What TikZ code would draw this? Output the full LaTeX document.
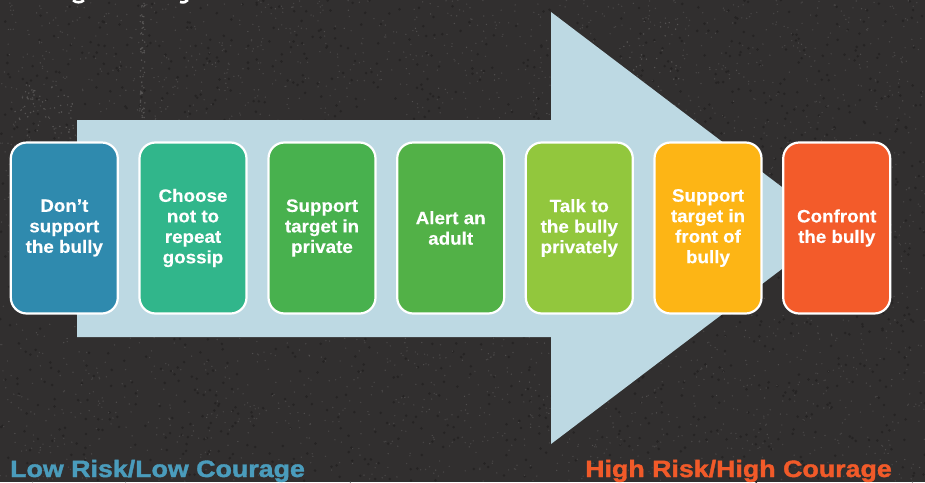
\documentclass[tikz,border=0pt]{standalone}
\usepackage{fontspec}
\setmainfont{Liberation Sans}
\newfontfamily\cardfont[FakeStretch=1.05,FakeBold=0.3]{Liberation Sans Bold}
\newfontfamily\heavyfont[FakeStretch=1.135,FakeBold=1.6]{Liberation Sans Bold}
\definecolor{board}{HTML}{312F2F}
\definecolor{speckA}{HTML}{464444}
\definecolor{speckB}{HTML}{262424}
\definecolor{speckC}{HTML}{777574}
\definecolor{arrowblue}{HTML}{BDD9E3}
\definecolor{cA}{HTML}{2F8AAE}
\definecolor{cB}{HTML}{31B68B}
\definecolor{cC}{HTML}{48B14E}
\definecolor{cD}{HTML}{52B147}
\definecolor{cE}{HTML}{92C73D}
\definecolor{cF}{HTML}{FDB515}
\definecolor{cG}{HTML}{F35B2A}
\definecolor{lowtext}{HTML}{4A9CBC}
\definecolor{hightext}{HTML}{F15A29}
\tikzset{
  card/.style={draw=white,line width=2.2pt,rounded corners=16pt,minimum width=107pt,minimum height=171pt,
    inner sep=0pt,text=white,align=center,font=\fontsize{17.9}{20.5}\selectfont\cardfont,
    execute at begin node=\vspace*{2pt}},
  endlabel/.style={anchor=base west,inner sep=0pt,font=\fontsize{23.6}{24}\selectfont\heavyfont}
}
\begin{document}
\begin{tikzpicture}[x=1pt,y=-1pt]
\useasboundingbox (0,0) rectangle (925,482);
\begin{scope}
\clip (0,0) rectangle (925,482);
\fill[board] (0,0) rectangle (925,482);
\pgfmathsetseed{4217}
\foreach \j in {1,...,8}{
  \fill[speckB] \foreach \i in {1,...,200}{ ({925*rnd},{482*rnd}) circle[radius=1.4] };
}
\foreach \j in {1,...,15}{
  \fill[speckA] \foreach \i in {1,...,200}{ ({925*rnd},{482*rnd}) circle[radius=0.8] };
}
\foreach \j in {1,...,3}{
  \fill[speckC,opacity=.45] \foreach \i in {1,...,170}{ ({925*rnd},{482*rnd}) circle[radius=0.7] };
}
% lighter chalk smudges
\fill[speckC,opacity=.55] \foreach \i in {1,...,60}{ ({140+5*rnd},{120*rnd}) circle[radius=0.8] };
\fill[speckC,opacity=.55] \foreach \i in {1,...,60}{ ({15+60*rnd},{85+50*rnd}) circle[radius=0.8] };
\fill[speckC,opacity=.55] \foreach \i in {1,...,50}{ ({620+60*rnd},{20+100*rnd}) circle[radius=0.8] };
% clipped remains of the title's descenders
\draw[white,line width=2.6pt] (73,0.2) .. controls (76,3) and (81,3) .. (84,0.2);
\draw[white,line width=2.6pt] (180,2) .. controls (184,3) and (186,2) .. (188,0);
% big arrow
\fill[arrowblue] (77,120) -- (551,120) -- (551,12) -- (836,228) -- (551,444) -- (551,337) -- (77,337) -- cycle;
% end labels
\node[endlabel,text=lowtext] (low) at (10,477) {Low Risk/Low Courage};
\node[endlabel,text=hightext] (high) at (585,477) {High Risk/High Courage};
\end{scope}
% cards
\node[card,fill=cA] (s1) at (64.3,228) {Don’t\\support\\the bully};
\node[card,fill=cB] (s2) at (193,228) {Choose\\not to\\repeat\\gossip};
\node[card,fill=cC] (s3) at (322,228) {Support\\target in\\private};
\node[card,fill=cD] (s4) at (450.7,228) {Alert an\\adult};
\node[card,fill=cE] (s5) at (579.3,228) {Talk to\\the bully\\privately};
\node[card,fill=cF] (s6) at (708,228) {Support\\target in\\front of\\bully};
\node[card,fill=cG] (s7) at (836.7,228) {Confront\\the bully};
\end{tikzpicture}
\end{document}
